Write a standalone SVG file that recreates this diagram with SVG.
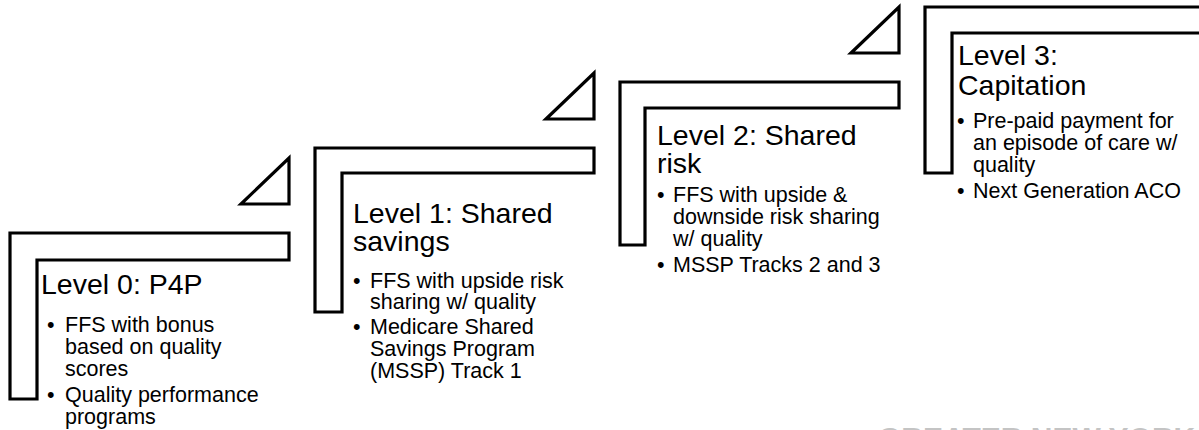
<svg xmlns="http://www.w3.org/2000/svg" width="1199" height="430" viewBox="0 0 1199 430">
  <style>
    .frame { fill: none; stroke: #000; stroke-width: 3.2; stroke-linejoin: miter; }
    .tri { fill: none; stroke: #000; stroke-width: 3.2; stroke-linejoin: miter; }
    .title { font-family: "Liberation Sans", Arial, sans-serif; font-size: 28.5px; fill: #000; }
    .item { font-family: "Liberation Sans", Arial, sans-serif; font-size: 21.5px; fill: #000; }
    .brand { font-family: "Liberation Sans", Arial, sans-serif; font-size: 30px; font-weight: bold; fill: #c4c4c4; }
  </style>

  <!-- Step triangles sitting above the right end of each level -->
  <g id="step-markers">
    <path class="tri" d="M241,204 L289,204 L289,158 Z"/>
    <path class="tri" d="M546,119 L594,119 L594,73 Z"/>
    <path class="tri" d="M851,53 L899,53 L899,7 Z"/>
  </g>

  <!-- Level 0 -->
  <g id="level-0">
    <path class="frame" d="M10,233 L289,233 L289,260 L37,260 L37,399 L10,399 Z"/>
    <text class="title" x="41" y="294">Level 0: P4P</text>
    <text class="item">
      <tspan x="47" y="332">•</tspan><tspan x="65" y="332">FFS with bonus</tspan>
      <tspan x="65" y="354">based on quality</tspan>
      <tspan x="65" y="376">scores</tspan>
      <tspan x="47" y="402">•</tspan><tspan x="65" y="402">Quality performance</tspan>
      <tspan x="65" y="424">programs</tspan>
    </text>
  </g>

  <!-- Level 1 -->
  <g id="level-1">
    <path class="frame" d="M315,148 L594,148 L594,173 L342,173 L342,312 L315,312 Z"/>
    <text class="title">
      <tspan x="353" y="223">Level 1: Shared</tspan>
      <tspan x="353" y="251">savings</tspan>
    </text>
    <text class="item">
      <tspan x="353" y="288">•</tspan><tspan x="370" y="288">FFS with upside risk</tspan>
      <tspan x="370" y="309">sharing w/ quality</tspan>
      <tspan x="353" y="334">•</tspan><tspan x="370" y="334">Medicare Shared</tspan>
      <tspan x="370" y="356">Savings Program</tspan>
      <tspan x="370" y="378">(MSSP) Track 1</tspan>
    </text>
  </g>

  <!-- Level 2 -->
  <g id="level-2">
    <path class="frame" d="M620,82 L899,82 L899,108 L645,108 L645,245 L620,245 Z"/>
    <text class="title">
      <tspan x="657" y="145">Level 2: Shared</tspan>
      <tspan x="657" y="173">risk</tspan>
    </text>
    <text class="item">
      <tspan x="657" y="202">•</tspan><tspan x="673" y="202">FFS with upside &amp;</tspan>
      <tspan x="673" y="224">downside risk sharing</tspan>
      <tspan x="673" y="246">w/ quality</tspan>
      <tspan x="657" y="272">•</tspan><tspan x="673" y="272">MSSP Tracks 2 and 3</tspan>
    </text>
  </g>

  <!-- Level 3 (runs off the right edge) -->
  <g id="level-3">
    <path class="frame" d="M925,7 L1210,7 L1210,33 L952,33 L952,173 L925,173 Z"/>
    <text class="title">
      <tspan x="958" y="65">Level 3:</tspan>
      <tspan x="958" y="95">Capitation</tspan>
    </text>
    <text class="item">
      <tspan x="957" y="128">•</tspan><tspan x="973" y="128">Pre-paid payment for</tspan>
      <tspan x="973" y="150">an episode of care w/</tspan>
      <tspan x="973" y="172">quality</tspan>
      <tspan x="957" y="198">•</tspan><tspan x="973" y="198">Next Generation ACO</tspan>
    </text>
  </g>

  <!-- Footer wordmark, clipped by the bottom edge -->
  <text class="brand" x="878" y="448">GREATER NEW YORK</text>
</svg>
